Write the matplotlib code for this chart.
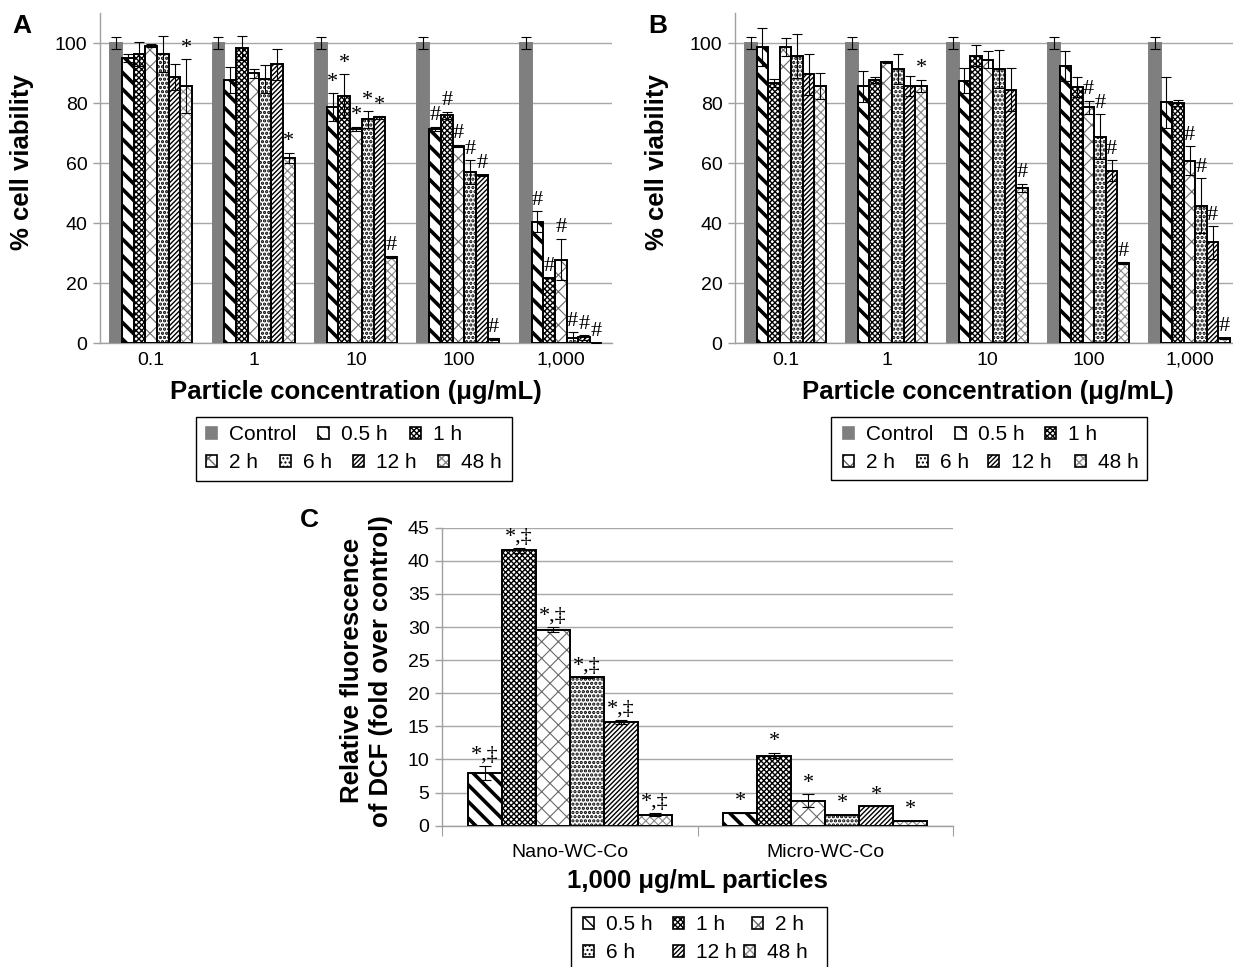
import numpy as np
import matplotlib.pyplot as plt
from matplotlib.patches import Rectangle
from matplotlib.legend_handler import HandlerTuple

plt.rcParams['font.family'] = ['Liberation Sans', 'DejaVu Sans']

W, H = 1233, 967

conc_labels = ['0.1', '1', '10', '100', '1,000']
series = ['Control', '0.5 h', '1 h', '2 h', '6 h', '12 h', '48 h']

# panel A: % viability, one list per series over the five concentrations
a_control = [100, 100, 100, 100, 100]
a_05h = [95.0, 87.7, 78.6, 71.4, 40.4]
a_1h = [96.3, 98.3, 82.3, 75.9, 21.9]
a_2h = [99.1, 89.9, 71.4, 65.8, 27.9]
a_6h = [96.3, 88.0, 74.6, 56.9, 1.6]
a_12h = [88.7, 92.9, 75.2, 55.9, 2.0]
a_48h = [85.7, 61.7, 28.7, 1.3, 0.2]
a_err = [[2, 2, 2, 2, 2],
         [1.3, 4.2, 4.7, 0.8, 3.5],
         [4.0, 4.0, 7.4, 1.2, 0.0],
         [0.5, 1.4, 0.8, 0.3, 6.9],
         [6.0, 4.7, 2.8, 4.0, 2.0],
         [4.3, 5.2, 0.5, 0.3, 0.8],
         [9.0, 1.8, 0.3, 0.3, 0.0]]
a_marks = [['', '', '', '', ''],
           ['', '', '*', '#', '#'],
           ['', '', '*', '#', '#'],
           ['', '', '*', '#', '#'],
           ['', '', '*', '#', '#'],
           ['', '', '*', '#', '#'],
           ['*', '*', '#', '#', '#']]

# panel B
b_control = [100, 100, 100, 100, 100]
b_05h = [98.6, 85.6, 87.5, 92.4, 80.3]
b_1h = [86.8, 87.7, 95.8, 85.4, 80.1]
b_2h = [98.7, 93.6, 94.4, 78.6, 60.8]
b_6h = [95.7, 91.4, 91.4, 68.8, 45.8]
b_12h = [89.6, 85.8, 84.4, 57.5, 33.6]
b_48h = [85.8, 85.8, 51.7, 26.7, 1.6]
b_err = [[2, 2, 2, 2, 2],
         [6.3, 5.1, 4.1, 5.0, 8.5],
         [1.3, 1.1, 3.4, 3.4, 1.0],
         [3.0, 0.3, 2.8, 2.2, 4.9],
         [7.3, 5.0, 6.3, 7.5, 9.2],
         [6.8, 3.3, 7.2, 3.5, 5.5],
         [4.3, 2.0, 1.4, 0.3, 0.3]]
b_marks = [['', '', '', '', ''],
           ['', '', '', '', ''],
           ['', '', '', '', ''],
           ['', '', '', '#', '#'],
           ['', '', '', '#', '#'],
           ['', '', '', '#', '#'],
           ['', '*', '#', '#', '#']]

# panel C: DCF fold over control at 1,000 ug/mL
particles = ['Nano-WC-Co', 'Micro-WC-Co']
c_series = ['0.5 h', '1 h', '2 h', '6 h', '12 h', '48 h']
c_nano = [8.0, 41.6, 29.6, 22.4, 15.65, 1.66]
c_micro = [1.96, 10.6, 3.8, 1.66, 2.97, 0.75]
c_nano_err = [1.06, 0.4, 0.35, 0.1, 0.3, 0.2]
c_micro_err = [0.0, 0.45, 0.95, 0.0, 0.0, 0.0]
c_nano_marks = ['*,\u2021'] * 6
c_micro_marks = ['*'] * 6

styles = {
    'Control': dict(face='#7f7f7f', hatch=None, hc='#7f7f7f', hlw=1, edge='#7f7f7f'),
    '0.5 h': dict(face='white', hatch='\\\\', hc='black', hlw=2.6, edge='black'),
    '1 h': dict(face='white', hatch='xxxxxx', hc='black', hlw=1.0, edge='black'),
    '2 h': dict(face='white', hatch='xx', hc='#6a6a6a', hlw=0.8, edge='black'),
    '6 h': dict(face='white', hatch='....', hc='black', hlw=1.6, edge='black'),
    '12 h': dict(face='white', hatch='///////', hc='black', hlw=1.0, edge='black'),
    '48 h': dict(face='white', hatch='xxxx', hc='#8a8a8a', hlw=0.8, edge='black'),
}


def draw_bars(ax, x, h, width, st):
    with plt.rc_context({'hatch.linewidth': st['hlw']}):
        ax.bar(x, h, width, color=st['face'], edgecolor=st['hc'],
               hatch=st['hatch'], linewidth=0, zorder=2)
    ax.bar(x, h, width, fill=False, edgecolor=st['edge'], linewidth=1.4, zorder=3)


def proxy(st):
    with plt.rc_context({'hatch.linewidth': st['hlw']}):
        p1 = Rectangle((0, 0), 1, 1, facecolor=st['face'], edgecolor=st['hc'],
                       hatch=st['hatch'], linewidth=0)
    p2 = Rectangle((0, 0), 1, 1, fill=False, edgecolor=st['edge'], linewidth=1.2)
    return (p1, p2)


def style_axes(ax, ymax, step, top_grid):
    for s in ['top', 'right']:
        ax.spines[s].set_visible(False)
    for s in ['left', 'bottom']:
        ax.spines[s].set_color('#a0a0a0')
        ax.spines[s].set_linewidth(1.0)
    ax.set_ylim(0, ymax)
    ax.set_yticks(np.arange(0, top_grid + 0.1, step))
    ax.yaxis.grid(True, color='#a8a8a8', linewidth=1.0, zorder=0)
    ax.set_axisbelow(True)
    ax.tick_params(axis='y', colors='#a0a0a0', labelcolor='black', length=5,
                   width=1, labelsize=14, pad=4)


def add_mark(ax, x, y, m):
    ax.annotate(m, (x, y), xytext=(0, 1), textcoords='offset points',
                ha='center', va='bottom', fontsize=16,
                family='Liberation Serif', zorder=5)


def viability_panel(ax, vals, errs, marks):
    n = len(series)
    width = 1 / 8.75
    x = np.arange(len(conc_labels))
    for i, name in enumerate(series):
        xi = x + (i - (n - 1) / 2) * width
        draw_bars(ax, xi, vals[i], width, styles[name])
        ax.errorbar(xi, vals[i], yerr=errs[i], fmt='none', ecolor='black',
                    elinewidth=0.8, capsize=3.5, capthick=0.8, zorder=4)
        for j in range(len(x)):
            if marks[i][j]:
                add_mark(ax, xi[j], vals[i][j] + errs[i][j], marks[i][j])
    ax.set_xlim(-0.5, len(x) - 0.5)
    style_axes(ax, 110, 20, 100)
    ax.set_xticks(x)
    ax.set_xticklabels(conc_labels)
    ax.tick_params(axis='x', length=0, labelsize=14, pad=6)
    ax.set_xlabel('Particle concentration (\u03bcg/mL)', fontsize=18.5,
                  fontweight='bold', labelpad=8)
    ax.set_ylabel('% cell viability', fontsize=18.5, fontweight='bold')
    ax.yaxis.set_label_coords(-66 / (ax.get_position().width * W), 0.55)


def place_legend(fig, box, items):
    # box = (left, top, right, bottom) in pixels; items = (label, handle x, row y)
    l, t, r, b = box
    fig.patches.append(Rectangle((l / W, 1 - b / H), (r - l) / W, (b - t) / H,
                                 transform=fig.transFigure, fill=False,
                                 edgecolor='black', linewidth=1.0))
    for label, hx, hy in items:
        fig.legend([proxy(styles[label])], [label], loc='center left',
                   bbox_to_anchor=(hx / W, 1 - hy / H), frameon=False,
                   fontsize=15, handlelength=0.55, handleheight=0.55,
                   handletextpad=0.55, borderpad=0, borderaxespad=0,
                   handler_map={tuple: HandlerTuple(ndivide=1)})


fig = plt.figure(figsize=(W / 100, H / 100), dpi=100)

ax_a = fig.add_axes([100 / W, 1 - 343.3 / H, 512 / W, 330.3 / H])
viability_panel(ax_a, [a_control, a_05h, a_1h, a_2h, a_6h, a_12h, a_48h], a_err, a_marks)

ax_b = fig.add_axes([735 / W, 1 - 343.3 / H, 505 / W, 330.3 / H])
viability_panel(ax_b, [b_control, b_05h, b_1h, b_2h, b_6h, b_12h, b_48h], b_err, b_marks)

# panel C
ax_c = fig.add_axes([442 / W, 1 - 825.7 / H, 511 / W, 298 / H])
width_c = 1 / 7.5
xc = np.arange(len(particles))
for i, name in enumerate(c_series):
    xi = xc + (i - 2.5) * width_c
    v = [c_nano[i], c_micro[i]]
    e = [c_nano_err[i], c_micro_err[i]]
    draw_bars(ax_c, xi, v, width_c, styles[name])
    ax_c.errorbar(xi, v, yerr=e, fmt='none', ecolor='black', elinewidth=0.8,
                  capsize=4, capthick=0.8, zorder=4)
    for j, m in enumerate([c_nano_marks[i], c_micro_marks[i]]):
        add_mark(ax_c, xi[j], v[j] + e[j], m)
ax_c.set_xlim(-0.5, 1.5)
style_axes(ax_c, 45, 5, 45)
ax_c.set_xticks([-0.5, 0.5, 1.5])
ax_c.set_xticks(xc, minor=True)
ax_c.set_xticklabels(particles, minor=True)
ax_c.tick_params(axis='x', which='major', length=7, colors='#a0a0a0', labelbottom=False)
ax_c.tick_params(axis='x', which='minor', length=0, labelsize=14, pad=13)
ax_c.set_xlabel('1,000 \u03bcg/mL particles', fontsize=18.5, fontweight='bold', labelpad=6)
ax_c.set_ylabel('Relative fluorescence\nof DCF (fold over control)', fontsize=18.5,
                fontweight='bold', linespacing=1.3)
ax_c.yaxis.set_label_coords(-0.095, 0.52)

# panel letters
fig.text(12 / W, 1 - 26 / H, 'A', fontsize=19, fontweight='bold', va='center')
fig.text(648 / W, 1 - 26 / H, 'B', fontsize=19, fontweight='bold', va='center')
fig.text(300 / W, 1 - 520 / H, 'C', fontsize=19, fontweight='bold', va='center')

# legends
place_legend(fig, (196, 417, 512, 481),
             [('Control', 206, 435), ('0.5 h', 318, 435), ('1 h', 410, 435),
              ('2 h', 206, 463), ('6 h', 280, 463), ('12 h', 353, 463), ('48 h', 438, 463)])
place_legend(fig, (831, 417, 1147, 480),
             [('Control', 843, 435), ('0.5 h', 955, 435), ('1 h', 1045, 435),
              ('2 h', 843, 463), ('6 h', 917, 463), ('12 h', 988, 463), ('48 h', 1075, 463)])
place_legend(fig, (571, 907, 827, 990),
             [('0.5 h', 583, 925), ('1 h', 673, 925), ('2 h', 752, 925),
              ('6 h', 583, 953), ('12 h', 673, 953), ('48 h', 744, 953)])

fig.savefig('out.png', dpi=100)
